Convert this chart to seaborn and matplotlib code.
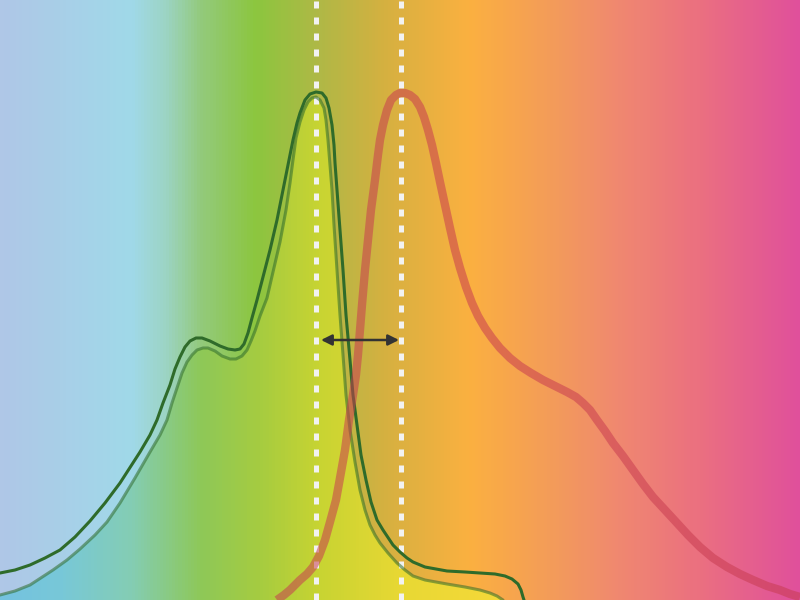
import numpy as np
import matplotlib.pyplot as plt
from matplotlib.colors import LinearSegmentedColormap
from matplotlib.patches import Polygon
import seaborn as sns; sns.set_theme(style = 'white')

#Absorption spectrum (outer dark outline), x = wavelength position, y = intensity
abs_x = [0, 15, 30, 45, 60, 75, 90, 105, 120, 140, 150, 157, 163, 170, 175, 180, 185, 190, 196,
         202, 210, 220, 228, 235, 240, 244, 248, 252, 257, 263, 270, 277, 283, 288, 293, 297,
         300, 305, 310, 316, 322, 326, 329, 332, 334, 335, 337, 340, 343, 346, 350, 353, 357,
         361, 366, 371, 377, 383, 387, 393, 400, 407, 413, 425, 447, 465, 480, 495, 505, 512,
         518, 521, 523, 524]
abs_y = [27, 30, 35, 42, 50, 63, 79, 97, 117, 148, 165, 180, 197, 215, 231, 243, 253, 259, 262,
         262, 259, 254, 251, 250, 251, 256, 267, 282, 300, 323, 350, 380, 410, 435, 460, 477,
         487, 500, 506, 508, 507, 502, 492, 475, 455, 437, 410, 370, 330, 285, 240, 205, 175,
         145, 120, 98, 80, 70, 64, 55, 48, 42, 38, 33, 29, 28, 27, 26, 24, 21,
         16, 10, 3, 0]

#Absorption spectrum (inner lighter outline, bounds the absorbed colours)
inner_x = [0, 15, 30, 53, 67, 80, 95, 107, 120, 135, 150, 160, 167, 172, 177, 182, 187, 192,
           197, 203, 208, 215, 222, 230, 236, 242, 247, 251, 255, 260, 267, 273, 280, 286, 290,
           293, 296, 300, 304, 308, 312, 316, 320, 324, 326, 328, 330, 332, 334, 337, 340, 343,
           346, 350, 355, 360, 365, 370, 375, 380, 388, 397, 405, 413, 425, 447, 465, 480, 490,
           497, 503]
inner_y = [5, 9, 15, 30, 40, 51, 65, 78, 97, 122, 148, 165, 180, 197, 212, 227, 238, 245,
           250, 252, 252, 249, 244, 241, 241, 244, 250, 259, 269, 284, 302, 328, 358, 390, 417,
           440, 462, 478, 490, 498, 502, 503, 500, 492, 480, 460, 435, 410, 375, 330, 285, 245,
           205, 170, 138, 110, 90, 75, 65, 57, 47, 37, 30, 24, 20, 16, 13, 10, 7,
           4, 0]

#Emission spectrum
em_x = [277, 284, 290, 296, 300, 307, 313, 319, 325, 330, 336, 340, 345, 349, 353, 356, 358,
        360, 362, 365, 368, 371, 375, 378, 380, 383, 387, 391, 396, 400, 405, 410, 415, 420,
        424, 428, 432, 436, 440, 445, 450, 455, 460, 466, 472, 478, 485, 492, 500, 510, 520,
        531, 543, 555, 567, 576, 583, 590, 597, 605, 613, 623, 633, 643, 653, 665, 677, 688,
        700, 713, 727, 740, 753, 767, 780, 790, 800]
em_y = [0, 5, 10, 16, 20, 26, 33, 44, 60, 78, 100, 122, 150, 180, 205, 225, 245,
        270, 295, 330, 360, 390, 420, 445, 460, 475, 490, 500, 505, 507, 507, 505, 501, 493,
        483, 470, 455, 437, 418, 395, 372, 350, 332, 313, 297, 284, 272, 262, 252, 242, 234,
        227, 220, 214, 208, 203, 197, 190, 180, 169, 157, 144, 130, 116, 103, 90, 77, 65,
        53, 42, 33, 26, 20, 14, 10, 6, 3]

#Peak positions (absorption max, emission max) and arrow height
peaks = [316, 401]
arrow_y = 260

#Background spectrum colours
bg_pos = [0, 130, 165, 200, 255, 320, 390, 470, 560, 620, 700, 800]
bg_col = ['#afc7e7', '#a0d9e9', '#9cd4c4', '#93ca7c', '#8cc63f', '#b0b846', '#d8b040',
          '#fbb040', '#f39a5c', '#f08870', '#eb7080', '#e0509b']
#Colours inside the absorption band
in_pos = [0, 60, 130, 200, 260, 320, 400, 520, 800]
in_col = ['#74c2e0', '#78c8d8', '#84cdb4', '#8ec858', '#a6cc40', '#c8d432', '#e8d834',
          '#f8d83a', '#f8d83a']

W, H = 800, 600
bg_cmap = LinearSegmentedColormap.from_list('bg', [(p / W, c) for p, c in zip(bg_pos, bg_col)])
in_cmap = LinearSegmentedColormap.from_list('inn', [(p / W, c) for p, c in zip(in_pos, in_col)])
grad = np.linspace(0, 1, 800).reshape(1, -1)

fig = plt.figure(figsize = (8, 6), dpi = 100)
ax = fig.add_axes([0, 0, 1, 1])

#Background and absorbed region
ax.imshow(grad, cmap = bg_cmap, extent = [0, W, 0, H], aspect = 'auto', zorder = 0)
band = Polygon(list(zip(inner_x, inner_y)) + [(inner_x[-1], 0), (inner_x[0], 0)],
               closed = True, facecolor = 'none', edgecolor = 'none')
ax.add_patch(band)
im = ax.imshow(grad, cmap = in_cmap, extent = [0, W, 0, H], aspect = 'auto', zorder = 1)
im.set_clip_path(band)

#Peak markers
for p in peaks:
    ax.axvline(p, color = '#f2f2f2', lw = 3.6, dashes = (1.4, 1.8), dash_capstyle = 'butt', zorder = 2)

#Spectra
sns.lineplot(x = inner_x, y = inner_y, ax = ax, color = '#2f6b2a', alpha = 0.55, lw = 2.2,
             sort = False, estimator = None, zorder = 3)
sns.lineplot(x = abs_x, y = abs_y, ax = ax, color = '#2f6b2a', lw = 2.2,
             sort = False, estimator = None, zorder = 4)
sns.lineplot(x = em_x, y = em_y, ax = ax, color = '#c83c50', alpha = 0.55, lw = 6.0,
             sort = False, estimator = None, zorder = 5)
for ln in ax.lines[-3:]:
    ln.set_solid_joinstyle('round')
ax.lines[-1].set_solid_capstyle('butt')

#Stokes shift arrow
ax.annotate('', xy = (peaks[1] - 2, arrow_y), xytext = (peaks[0] + 5, arrow_y),
            arrowprops = dict(arrowstyle = '<|-|>', color = '#333333', lw = 1.8,
                              mutation_scale = 16, shrinkA = 0, shrinkB = 0), zorder = 6)

ax.set_xlim(0, W)
ax.set_ylim(0, H)
ax.axis('off')
fig.savefig('out.png', dpi = 100)
